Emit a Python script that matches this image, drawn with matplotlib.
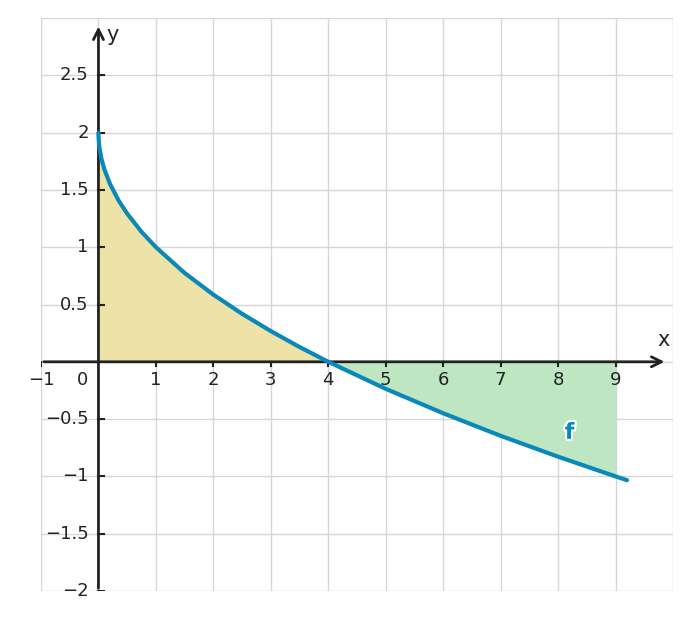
import matplotlib
matplotlib.use("Agg")
import matplotlib.pyplot as plt
import numpy as np

xs = np.array([0, 0.001, 0.01, 0.02, 0.05, 0.1, 0.2, 0.35, 0.5, 0.75, 1, 1.5, 2, 2.5, 3, 3.5, 4, 5, 6, 7, 8, 9, 9.2])
ys = np.array([2, 1.968, 1.9, 1.859, 1.776, 1.684, 1.553, 1.408, 1.293, 1.134, 1, 0.775, 0.586, 0.419, 0.268, 0.129, 0, -0.236, -0.449, -0.646, -0.828, -1, -1.033])
xticks = [-1, 1, 2, 3, 4, 5, 6, 7, 8, 9]
yticks = [-2, -1.5, -1, -0.5, 0.5, 1, 1.5, 2, 2.5]
ylabels = ["\u22122", "\u22121.5", "\u22121", "\u22120.5", "0.5", "1", "1.5", "2", "2.5"]

fig = plt.figure(figsize=(6.91, 6.2), dpi=100)
ax = fig.add_axes([41/691, 1-591/620, (673-41)/691, (591-18)/620])
ax.set_xlim(-1, 10); ax.set_ylim(-2, 3)
for v in range(-1, 11):
    ax.axvline(v, color="#d6d6d6", lw=1, zorder=0)
for v in np.arange(-2, 3.01, 0.5):
    ax.axhline(v, color="#d6d6d6", lw=1, zorder=0)
for s in ax.spines.values():
    s.set_visible(False)
ax.set_xticks([]); ax.set_yticks([])

m1 = xs <= 4
ax.fill_between(xs[m1], ys[m1], 0, color="#ede3a6", lw=0, zorder=1)
m2 = (xs >= 4) & (xs <= 9)
ax.fill_between(xs[m2], ys[m2], 0, color="#bfe6c3", lw=0, zorder=1)

ax.annotate("", xy=(9.9, 0), xytext=(-1, 0), arrowprops=dict(arrowstyle="->", lw=2, color="#222222", mutation_scale=18), zorder=3)
ax.annotate("", xy=(0, 2.95), xytext=(0, -2), arrowprops=dict(arrowstyle="->", lw=2, color="#222222", mutation_scale=18), zorder=3)
ax.plot(xs, ys, color="#0a88ba", lw=3, zorder=4, solid_capstyle="round")

for v in xticks:
    ax.plot([v, v], [0, -0.04], color="#222222", lw=1.5, zorder=3)
    lab = "\u22121" if v < 0 else str(v)
    ax.text(v, -0.08, lab, ha="center", va="top", fontsize=13, color="#222222", zorder=5)
ax.text(-0.28, -0.08, "0", ha="center", va="top", fontsize=13, color="#222222")
for v, lab in zip(yticks, ylabels):
    ax.plot([0, 0.1], [v, v], color="#222222", lw=1.5, zorder=3)
    ax.text(-0.17, v, lab, ha="right", va="center", fontsize=13, color="#222222")
ax.text(9.72, 0.1, "x", fontsize=15, color="#222222", va="bottom")
ax.text(0.13, 2.85, "y", fontsize=15, color="#222222", va="center")
import matplotlib.patheffects as pe
ax.text(8.2, -0.62, "f", fontsize=16, fontweight="bold", color="#0a88ba", ha="center", va="center",
        path_effects=[pe.withStroke(linewidth=3, foreground="white")], zorder=6)
fig.savefig("out.png", dpi=100)
